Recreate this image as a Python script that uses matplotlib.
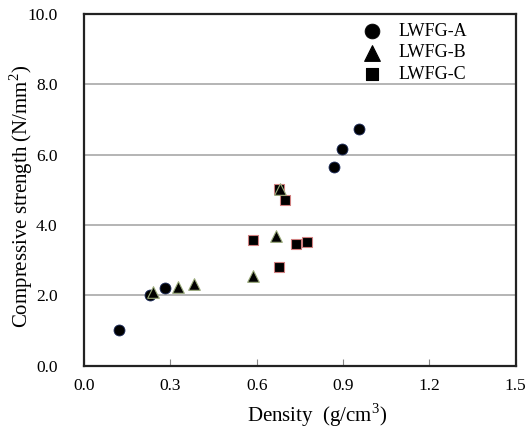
import matplotlib
matplotlib.use("Agg")
import matplotlib.pyplot as plt

plt.rcParams['font.family'] = ['Liberation Serif', 'DejaVu Serif']
plt.rcParams['mathtext.fontset'] = 'custom'
plt.rcParams['mathtext.rm'] = 'Liberation Serif'

# Density (g/cm3) and compressive strength (N/mm2) per aggregate type
a_density = [0.12, 0.23, 0.28, 0.87, 0.895, 0.957]
a_strength = [1.02, 2.01, 2.22, 5.64, 6.17, 6.73]

b_density = [0.241, 0.328, 0.383, 0.587, 0.668, 0.681]
b_strength = [2.10, 2.23, 2.32, 2.55, 3.68, 5.02]

c_density = [0.586, 0.679, 0.700, 0.735, 0.774, 0.679]
c_strength = [3.57, 5.03, 4.71, 3.46, 3.52, 2.80]

x_ticks = [0.0, 0.3, 0.6, 0.9, 1.2, 1.5]
y_ticks = [0.0, 2.0, 4.0, 6.0, 8.0, 10.0]

fig = plt.figure(figsize=(5.32, 4.28), dpi=100)
ax = fig.add_axes([84 / 532, 1 - 365.7 / 428, 431.7 / 532, 351.7 / 428])

ax.scatter(a_density, a_strength, marker='o', s=62, color='black',
           edgecolors='#1a2a5a', linewidths=0.6, zorder=3, label='LWFG-A')
ax.scatter(b_density, b_strength, marker='^', s=70, color='black',
           edgecolors='#9aaa7a', linewidths=0.8, zorder=4, label='LWFG-B')
ax.scatter(c_density, c_strength, marker='s', s=46, color='black',
           edgecolors='#d08080', linewidths=0.8, zorder=3, label='LWFG-C')

ax.set_xlim(0, 1.5)
ax.set_ylim(0, 10)
ax.set_xticks(x_ticks)
ax.set_xticklabels([f"{v:.1f}" for v in x_ticks])
ax.set_yticks(y_ticks)
ax.set_yticklabels([f"{v:.1f}" for v in y_ticks])
ax.tick_params(axis='x', direction='in', length=5, labelsize=12.5, pad=9, color='#888888')
ax.tick_params(axis='y', length=0, labelsize=12.5, pad=19)
ax.yaxis.grid(True, color='#a8a8a8', linewidth=1.2)
ax.set_axisbelow(True)
for sp in ax.spines.values():
    sp.set_linewidth(1.6)
    sp.set_color('#222222')

ax.set_xlabel('Density  (g/cm$^3$)', fontsize=15, va='baseline')
ax.xaxis.set_label_coords(0.541, -0.160)
ax.set_ylabel('Compressive strength (N/mm$^2$)', fontsize=15)
ax.yaxis.set_label_coords(-0.113, 0.4825)

leg = ax.legend(loc='upper left', bbox_to_anchor=(0.618, 0.995), frameon=False,
                fontsize=13, handletextpad=0.75, labelspacing=0.25,
                borderaxespad=0.0, markerscale=1.35, handlelength=1.5)
for h in leg.legend_handles:
    h.set_edgecolor('black')

fig.savefig('out.png', dpi=100)
